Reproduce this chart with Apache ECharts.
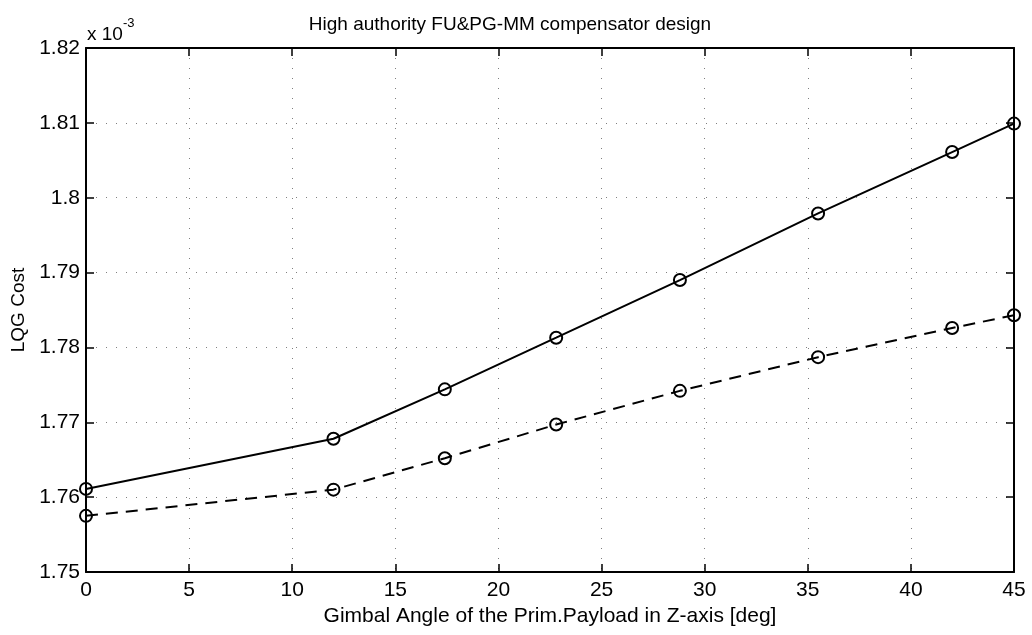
<!DOCTYPE html>
<html>
<head>
<meta charset="utf-8">
<script src="https://cdn.jsdelivr.net/npm/echarts@6/dist/echarts.min.js"></script>
<style>
  html, body { margin: 0; padding: 0; background: #fff; }
  #chart { width: 1032px; height: 635px; }
</style>
</head>
<body>
<div id="chart"></div>
<script>
// Gimbal angle (deg) at which each design was evaluated
const gimbalAngles = [0, 12, 17.4, 22.8, 28.8, 35.5, 42, 45];
// LQG cost, in units of 1e-3
const costSolid  = [1.7611, 1.7678, 1.7744, 1.7813, 1.7890, 1.7979, 1.8061, 1.8099];
const costDashed = [1.7575, 1.7610, 1.7652, 1.7697, 1.7742, 1.7787, 1.7826, 1.7843];
const xTicks = [0, 5, 10, 15, 20, 25, 30, 35, 40, 45];
const yTicks = [1.75, 1.76, 1.77, 1.78, 1.79, 1.80, 1.81, 1.82];

const FONT = '"Liberation Sans", Arial, Helvetica, sans-serif';
const pairs = ys => gimbalAngles.map((x, i) => [x, ys[i]]);

const chart = echarts.init(document.getElementById('chart'), null, { renderer: 'canvas' });

const gridDots = { show: true, lineStyle: { color: '#000', width: 1, type: [1, 9], opacity: 0.5 } };
const inwardTicks = { show: true, inside: true, length: 8, lineStyle: { color: '#000', width: 1.5 } };
const boxLine = { show: true, onZero: false, lineStyle: { color: '#000', width: 2 } };

chart.setOption({
  animation: false,
  backgroundColor: '#fff',
  title: {
    text: 'High authority FU&PG-MM compensator design',
    left: 505, top: 10, textAlign: 'center',
    textStyle: { fontFamily: FONT, fontSize: 19, fontWeight: 'normal', color: '#000' }
  },
  graphic: [{
    type: 'text', left: 87, top: 17,
    style: {
      text: '{b|x 10}{s|-3}',
      rich: {
        b: { fontFamily: FONT, fontSize: 19, fill: '#000', verticalAlign: 'bottom', padding: [8, 0, 0, 0] },
        s: { fontFamily: FONT, fontSize: 13, fill: '#000', verticalAlign: 'top' }
      }
    }
  }],
  grid: { left: 86, right: 18, top: 48, bottom: 63, containLabel: false },
  xAxis: [{
    type: 'value', min: 0, max: 45, interval: 5,
    name: 'Gimbal Angle of the Prim.Payload in Z-axis [deg]',
    nameLocation: 'middle', nameGap: 33,
    nameTextStyle: { fontFamily: FONT, fontSize: 21, color: '#000' },
    axisLine: boxLine, axisTick: inwardTicks,
    axisLabel: { fontFamily: FONT, fontSize: 21, color: '#000', margin: 8,
      formatter: v => xTicks.includes(v) ? String(v) : '' },
    splitLine: gridDots
  }, {
    type: 'value', min: 0, max: 45, interval: 5, position: 'top',
    axisLine: boxLine, axisTick: inwardTicks, axisLabel: { show: false }, splitLine: { show: false }
  }],
  yAxis: [{
    type: 'value', min: 1.75, max: 1.82, interval: 0.01,
    name: 'LQG Cost', nameLocation: 'middle', nameGap: 57,
    nameTextStyle: { fontFamily: FONT, fontSize: 19, color: '#000' },
    axisLine: boxLine, axisTick: inwardTicks,
    axisLabel: { fontFamily: FONT, fontSize: 21, color: '#000', margin: 6,
      formatter: v => { const t = yTicks.find(k => Math.abs(k - v) < 1e-9); return t === undefined ? '' : String(+t.toFixed(2)); } },
    splitLine: gridDots
  }, {
    type: 'value', min: 1.75, max: 1.82, interval: 0.01, position: 'right',
    axisLine: boxLine, axisTick: inwardTicks, axisLabel: { show: false }, splitLine: { show: false }
  }],
  series: [{
    name: 'solid', type: 'line', data: pairs(costSolid),
    symbol: 'circle', symbolSize: 12,
    lineStyle: { color: '#000', width: 2, type: 'solid' },
    itemStyle: { color: 'transparent', borderColor: '#000', borderWidth: 2 }
  }, {
    name: 'dashed', type: 'line', data: pairs(costDashed),
    symbol: 'circle', symbolSize: 12,
    lineStyle: { color: '#000', width: 2, type: [12, 8] },
    itemStyle: { color: 'transparent', borderColor: '#000', borderWidth: 2 }
  }]
});
</script>
</body>
</html>
